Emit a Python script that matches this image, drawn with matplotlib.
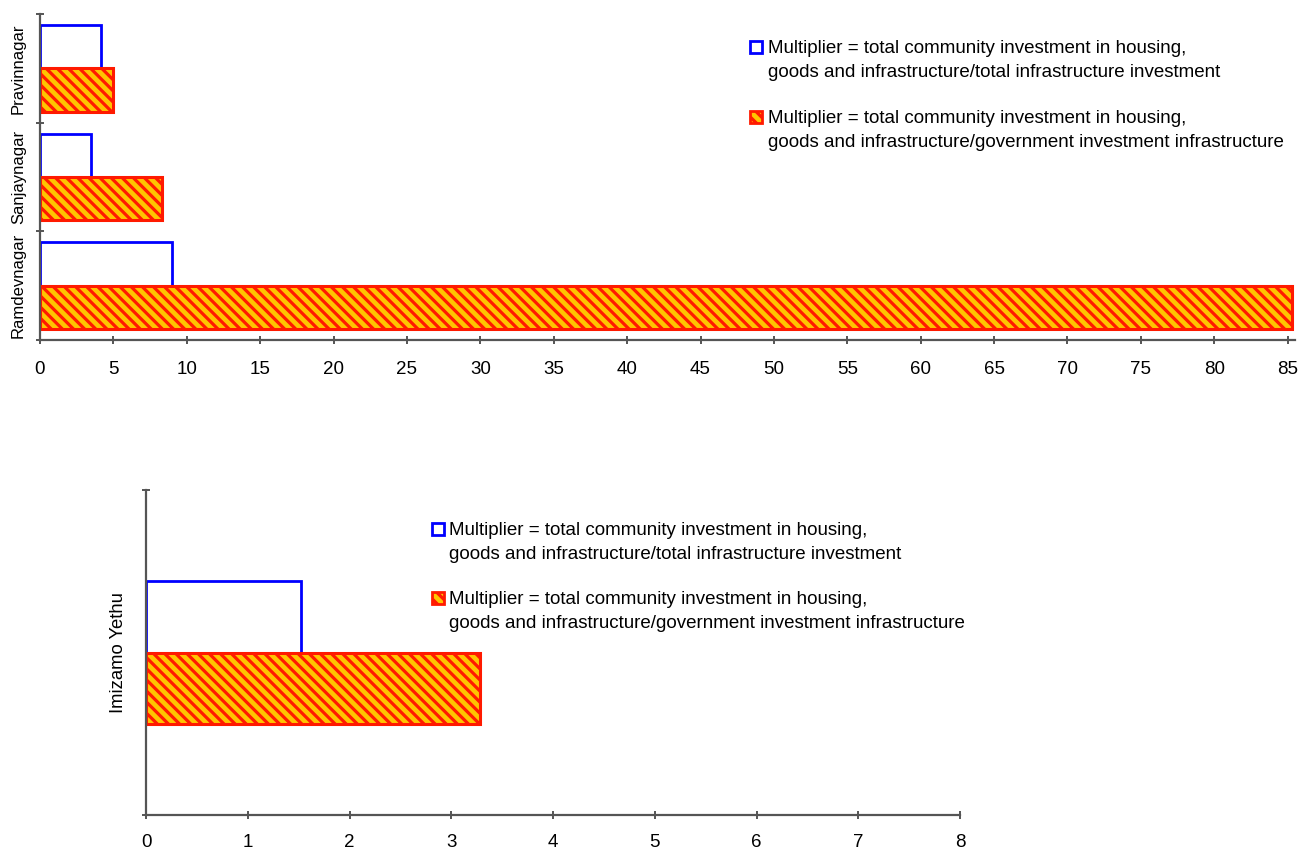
import numpy as np
import matplotlib
matplotlib.use('Agg')
import matplotlib.pyplot as plt
from matplotlib.patches import Rectangle

plt.rcParams['font.family'] = ['Liberation Sans', 'DejaVu Sans']
plt.rcParams['hatch.linewidth'] = 2.3

# data
top_sites = ['Ramdevnagar', 'Sanjaynagar', 'Pravinnagar']
top_total_infra = [9.0, 3.5, 4.15]
top_gov_infra = [85.3, 8.3, 4.95]
top_xticks = list(range(0, 90, 5))

bottom_sites = ['Imizamo Yethu']
bottom_total_infra = [1.52]
bottom_gov_infra = [3.28]
bottom_xticks = list(range(0, 9))

label_total = ('Multiplier = total community investment in housing,\n'
               'goods and infrastructure/total infrastructure investment')
label_gov = ('Multiplier = total community investment in housing,\n'
             'goods and infrastructure/government investment infrastructure')

BLUE = '#0000ff'
RED = '#ff1a00'
YELLOW = '#ffc400'
SPINE = '#555555'
HATCH = '\\\\\\'


def style_axes(ax, n, label_size, label_pad, xpad):
    for s in ['top', 'right']:
        ax.spines[s].set_visible(False)
    for s in ['left', 'bottom']:
        ax.spines[s].set_color(SPINE)
        ax.spines[s].set_linewidth(1.6)
    ax.set_ylim(-0.5, n - 0.5)
    ax.set_yticks(np.arange(n + 1) - 0.5)
    ax.set_yticklabels([])
    ax.tick_params(axis='both', which='major', direction='inout', length=6,
                   width=1.4, color=SPINE, labelsize=13.5)
    ax.tick_params(axis='x', pad=xpad)
    ax.set_yticks(np.arange(n), minor=True)
    ax.tick_params(axis='y', which='minor', length=0, pad=label_pad,
                   labelsize=label_size)


def draw_bars(ax, y, total, gov, h):
    ax.barh(y + h / 2, total, height=h, color='white', edgecolor=BLUE,
            linewidth=2.0, zorder=2)
    ax.barh(y - h / 2, gov, height=h, color=YELLOW, edgecolor=RED,
            linewidth=2.2, hatch=HATCH, zorder=2)


def draw_legend(fig, x, y, dy_entry):
    # hand-made legend: marker aligned with first line of the label
    w, h = 0.0092, 0.014
    for i, (lab, fc, ec, hatch) in enumerate([(label_total, 'white', BLUE, None),
                                              (label_gov, YELLOW, RED, HATCH)]):
        yy = y - i * dy_entry
        fig.patches.append(Rectangle((x, yy - h / 2), w, h, transform=fig.transFigure,
                                     facecolor=fc, edgecolor=ec, linewidth=2.0,
                                     hatch=hatch, figure=fig))
        fig.text(x + 0.0135, yy + 0.0080, lab, fontsize=13.5, va='top', ha='left',
                 linespacing=1.5)


fig = plt.figure(figsize=(12.98, 8.5), dpi=100)

ax1 = fig.add_axes([0.0308, 0.600, 0.9669, 0.3835])
y1 = np.arange(len(top_sites))
draw_bars(ax1, y1, top_total_infra, top_gov_infra, 0.4)
ax1.set_xlim(0, 85.5)
ax1.set_xticks(top_xticks)
style_axes(ax1, len(top_sites), 12, 10, 12)
ax1.set_yticklabels(top_sites, minor=True, rotation=90, va='center')

ax2 = fig.add_axes([0.1125, 0.0412, 0.6271, 0.3823])
y2 = np.arange(len(bottom_sites))
draw_bars(ax2, y2, bottom_total_infra, bottom_gov_infra, 0.22)
ax2.set_xlim(0, 8)
ax2.set_xticks(bottom_xticks)
style_axes(ax2, len(bottom_sites), 13.3, 14, 10.5)
ax2.set_yticklabels(bottom_sites, minor=True, rotation=90, va='center')

draw_legend(fig, 0.5778, 0.9447, 0.0823)
draw_legend(fig, 0.3328, 0.3776, 0.0812)

fig.savefig('out.png', dpi=100)
